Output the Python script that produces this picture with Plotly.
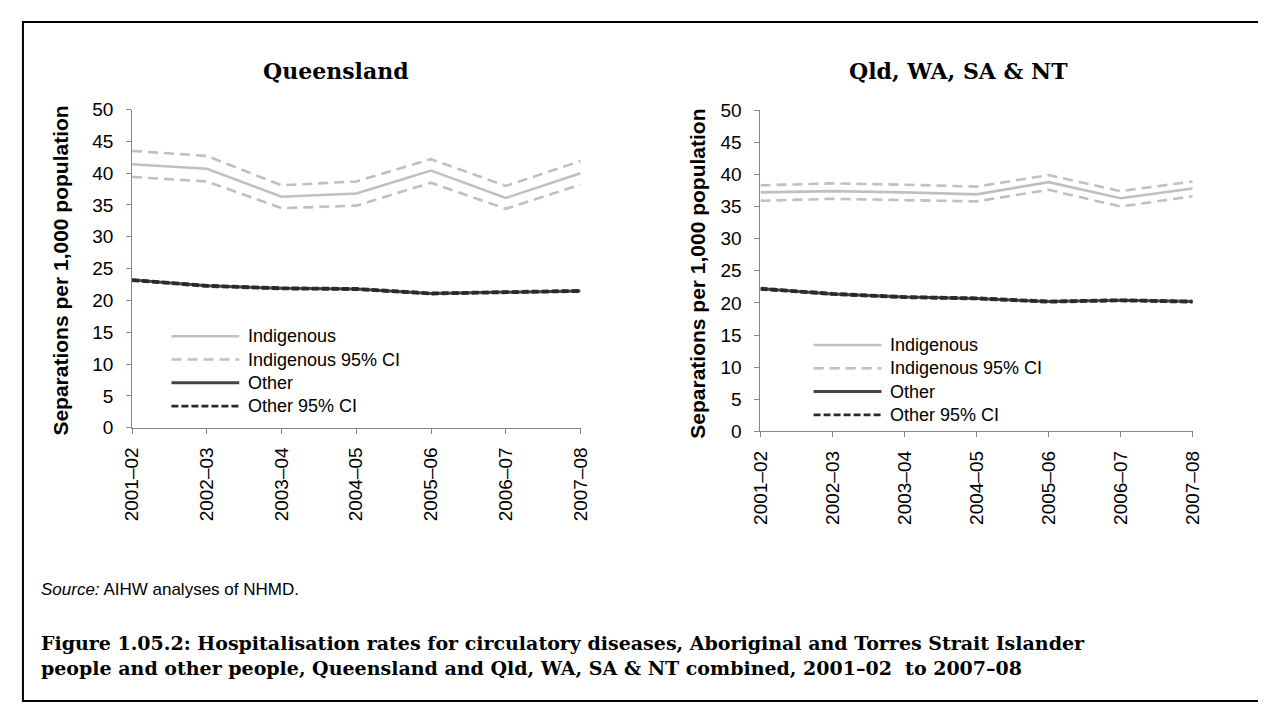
import plotly.graph_objects as go

W, H = 1266, 708

# ---------------- data ----------------
years = ["2001–02", "2002–03", "2003–04", "2004–05", "2005–06", "2006–07", "2007–08"]

qld_indig = [41.4, 40.7, 36.3, 36.8, 40.4, 36.1, 40.0]
qld_indig_hi = [43.5, 42.7, 38.1, 38.7, 42.2, 38.0, 41.9]
qld_indig_lo = [39.4, 38.7, 34.5, 34.9, 38.5, 34.4, 38.2]
qld_other = [23.2, 22.3, 21.9, 21.8, 21.1, 21.3, 21.5]
qld_other_hi = [23.3, 22.4, 22.0, 21.9, 21.2, 21.4, 21.6]
qld_other_lo = [23.1, 22.2, 21.8, 21.7, 21.0, 21.2, 21.4]

comb_indig = [37.2, 37.4, 37.2, 36.9, 38.8, 36.3, 37.8]
comb_indig_hi = [38.3, 38.6, 38.4, 38.1, 39.9, 37.4, 38.9]
comb_indig_lo = [35.9, 36.2, 36.0, 35.8, 37.6, 35.0, 36.6]
comb_other = [22.2, 21.4, 20.9, 20.7, 20.2, 20.4, 20.2]
comb_other_hi = [22.3, 21.5, 21.0, 20.8, 20.3, 20.5, 20.3]
comb_other_lo = [22.1, 21.3, 20.8, 20.6, 20.1, 20.3, 20.1]

panel_titles = ["Queensland", "Qld, WA, SA & NT"]
legend_labels = ["Indigenous", "Indigenous 95% CI", "Other", "Other 95% CI"]
y_title = "Separations per 1,000 population"
source_text = "<i>Source:</i> AIHW analyses of NHMD."
caption_lines = [
    "Figure 1.05.2: Hospitalisation rates for circulatory diseases, Aboriginal and Torres Strait Islander",
    "people and other people, Queensland and Qld, WA, SA & NT combined, 2001–02  to 2007–08",
]

# ---------------- styles ----------------
LIGHT = "#c0c0c0"
DARK = "#444444"
DARK_DASH = "#2a2a2a"
styles = [
    dict(color=LIGHT, width=2.6, dash="solid"),
    dict(color=LIGHT, width=2.6, dash="10px,6px"),
    dict(color=DARK, width=3, dash="solid"),
    dict(color=DARK_DASH, width=2.6, dash="7px,3px"),
]
SANS = "Liberation Sans, Arial, sans-serif"
SERIF = "DejaVu Serif, serif"


def px(x):
    return x / W


def py(y):
    return 1 - y / H


fig = go.Figure()

panels = [
    dict(series=[qld_indig, qld_indig_lo, qld_indig_hi, qld_other, qld_other_lo, qld_other_hi],
         xa="x", ya="y"),
    dict(series=[comb_indig, comb_indig_lo, comb_indig_hi, comb_other, comb_other_lo, comb_other_hi],
         xa="x2", ya="y2"),
]
style_idx = [0, 1, 1, 2, 3, 3]
for p in panels:
    for s, si in zip(p["series"], style_idx):
        fig.add_trace(go.Scatter(x=years, y=s, mode="lines", line=styles[si],
                                 xaxis=p["xa"], yaxis=p["ya"], showlegend=False,
                                 hoverinfo="skip"))

# axis geometry (pixels)
geo = [
    dict(x0=115, x1=571, y0=422.3, y50=94.3, title_x=322, ytitle_x=42, ytitle_y=260,
         leg_x0=155, leg_x1=224, leg_tx=231, leg_rows=[328, 352, 376, 400]),
    dict(x0=754, x1=1193.5, y0=426, y50=95, title_x=955, ytitle_x=690, ytitle_y=264,
         leg_x0=808, leg_x1=877, leg_tx=884, leg_rows=[337, 361, 385, 409]),
]

axis_common = dict(showgrid=False, zeroline=False, showline=True, linecolor="#868686",
                   linewidth=1, ticks="outside", ticklen=5, tickcolor="#868686",
                   tickfont=dict(family=SANS, size=19, color="#000000"))

for i, g in enumerate(geo):
    sfx = "" if i == 0 else "2"
    fig.layout["xaxis" + sfx] = dict(
        axis_common, domain=[px(g["x0"]), px(g["x1"])], anchor="y" + sfx,
        type="category", range=[0, len(years) - 1], tickangle=-90,
        ticklabelstandoff=6)
    fig.layout["yaxis" + sfx] = dict(
        axis_common, domain=[py(g["y0"]), py(g["y50"])], anchor="x" + sfx,
        range=[0, 50], dtick=5, ticklabelstandoff=9)

annotations = []
shapes = []
for i, g in enumerate(geo):
    annotations.append(dict(text="<b>" + panel_titles[i] + "</b>", x=px(g["title_x"]), y=py(55),
                            xref="paper", yref="paper", xanchor="center", yanchor="middle",
                            showarrow=False, font=dict(family=SERIF, size=22, color="#000000")))
    annotations.append(dict(text="<b>" + y_title + "</b>", x=px(g["ytitle_x"]), y=py(g["ytitle_y"]),
                            xref="paper", yref="paper", xanchor="center", yanchor="middle",
                            textangle=-90, showarrow=False,
                            font=dict(family=SANS, size=21, color="#000000")))
    for lab, st, ry in zip(legend_labels, styles, g["leg_rows"]):
        shapes.append(dict(type="line", xref="paper", yref="paper",
                           x0=px(g["leg_x0"]), x1=px(g["leg_x1"]), y0=py(ry), y1=py(ry),
                           line=st))
        annotations.append(dict(text=lab, x=px(g["leg_tx"]), y=py(ry), xref="paper", yref="paper",
                                xanchor="left", yanchor="middle", showarrow=False,
                                font=dict(family=SANS, size=18, color="#000000")))

annotations.append(dict(text=source_text, x=px(20), y=py(589), xref="paper", yref="paper",
                        xanchor="left", yanchor="middle", showarrow=False,
                        font=dict(family=SANS, size=17, color="#000000")))
for line, yy in zip(caption_lines, [644, 670]):
    annotations.append(dict(text="<b>" + line + "</b>", x=px(20), y=py(yy), xref="paper", yref="paper",
                            xanchor="left", yanchor="middle", showarrow=False,
                            font=dict(family=SERIF, size=19, color="#000000")))

# outer frame
shapes.append(dict(type="rect", xref="paper", yref="paper", x0=px(4), x1=px(1262), y0=py(704), y1=py(4),
                   line=dict(color="#000000", width=2), fillcolor="rgba(0,0,0,0)"))

fig.update_layout(width=W, height=H, margin=dict(l=0, r=0, t=0, b=0),
                  paper_bgcolor="#ffffff", plot_bgcolor="#ffffff",
                  annotations=annotations, shapes=shapes, showlegend=False)

fig.write_html("out.html", config={"displayModeBar": False})
